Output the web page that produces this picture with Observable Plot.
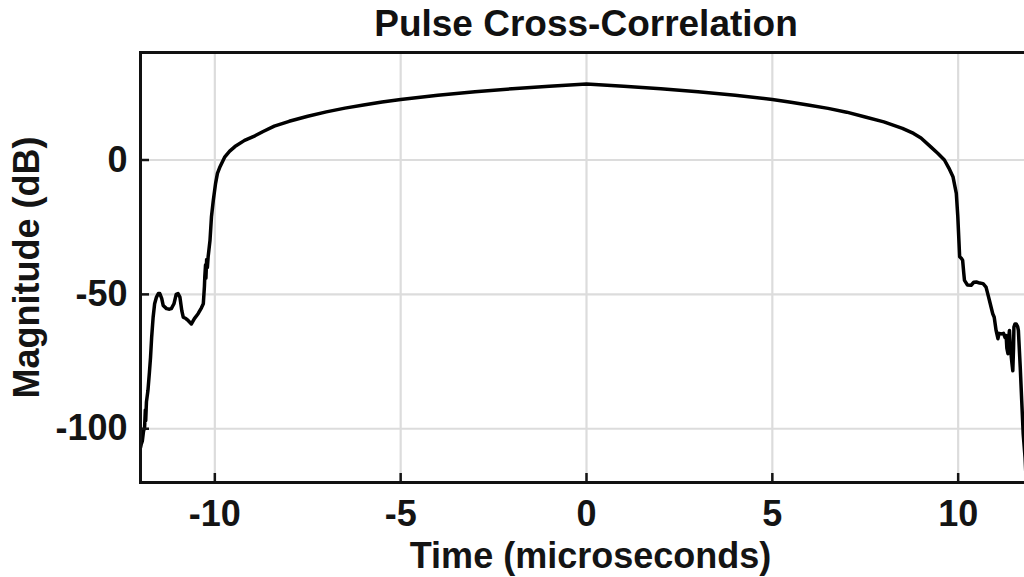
<!DOCTYPE html>
<html><head><meta charset="utf-8">
<script src="https://cdn.jsdelivr.net/npm/d3@7"></script>
<script src="https://cdn.jsdelivr.net/npm/@observablehq/plot@0.6"></script>
<style>
html,body{margin:0;padding:0;background:#fff;}
#wrap{position:relative;width:1024px;height:577px;overflow:hidden;background:#fff;}
#title{position:absolute;left:0;top:5px;width:1172px;text-align:center;font:bold 37px/37px "Liberation Sans",Arial,sans-serif;color:#111;}
#chart{position:absolute;left:0;top:0;width:1032px;}
</style>
</head><body>
<div id="wrap"><div id="chart"></div><div id="title"></div></div>
<script>
const titleText = "Pulse Cross-Correlation";
const xLabel = "Time (microseconds)";
const yLabel = "Magnitude (dB)";
const xTicks = [-10, -5, 0, 5, 10];
const yTicks = [-100, -50, 0];

const time = [
  -12.00, -11.98, -11.95, -11.92, -11.89, -11.87, -11.86, -11.84, -11.80, -11.76,
  -11.73, -11.70, -11.66, -11.62, -11.57, -11.52, -11.48, -11.43, -11.39, -11.30,
  -11.22, -11.17, -11.10, -11.04, -10.99, -10.94, -10.89, -10.85, -10.78, -10.72,
  -10.63, -10.55, -10.45, -10.36, -10.31, -10.28, -10.27, -10.25, -10.24, -10.22,
  -10.20, -10.18, -10.13, -10.09, -10.04, -9.98, -9.93, -9.86, -9.73, -9.60,
  -9.46, -9.20, -8.92, -8.70, -8.40, -8.00, -7.50, -7.00, -6.50, -6.00,
  -5.50, -5.00, -4.00, -3.00, -2.00, -1.00, 0.00, 1.00, 2.00, 3.00,
  4.00, 5.00, 5.50, 6.00, 6.50, 7.00, 7.50, 8.00, 8.50, 8.80,
  9.00, 9.27, 9.45, 9.63, 9.75, 9.86, 9.95, 9.99, 10.02, 10.04,
  10.08, 10.12, 10.15, 10.17, 10.25, 10.35, 10.42, 10.49, 10.58, 10.67,
  10.75, 10.80, 10.84, 10.93, 10.97, 11.02, 11.07, 11.10, 11.16, 11.22,
  11.26, 11.29, 11.31, 11.34, 11.36, 11.38, 11.40, 11.43, 11.45, 11.47,
  11.49, 11.50, 11.53, 11.56, 11.60, 11.62, 11.67, 11.71, 11.75, 11.80,
  11.85
];
const magnitude = [
  -107, -105.7, -104.5, -101, -99.5, -93, -97, -90, -85.8, -79,
  -73.4, -66, -58.5, -53.5, -51, -49.7, -49.7, -51.5, -54.1, -55.3,
  -55.5, -55.3, -53.5, -50, -49.7, -51, -56, -58.5, -59, -59.7,
  -61, -59, -57.2, -55, -53.5, -47, -43.5, -39, -44, -37,
  -40, -36, -29.9, -21, -14.9, -8.7, -5, -2.5, 1.2, 3.3,
  5, 7.3, 9.0, 10.6, 12.6, 14.4, 16.3, 17.9, 19.3, 20.5,
  21.6, 22.5, 24.1, 25.4, 26.5, 27.4, 28.3, 27.4, 26.5, 25.4,
  24.1, 22.5, 21.5, 20.4, 19.2, 17.8, 16.0, 14.2, 11.8, 9.9,
  8.2, 4.8, 2.5, 0, -3, -6.2, -12.4, -21, -30, -36,
  -36.5, -37.3, -42, -44.8, -46.5, -46.6, -45.5, -45.4, -45.8, -46,
  -47.3, -50, -52.2, -57.2, -58.5, -63.4, -66.5, -64.5, -64.7, -64.5,
  -66, -65.3, -70, -72.1, -66, -63.4, -68, -73.4, -76, -78.4,
  -70, -62.2, -61, -61, -62, -63.4, -77.1, -89.6, -102, -110.7,
  -125
];
const data = time.map((t, i) => ({t, m: magnitude[i]}));

document.getElementById("title").textContent = titleText;

const W = 1032, H = 577, mL = 140, mR = 0, mT = 52, mB = 95;
const innerW = W - mL - mR, innerH = H - mT - mB;
const ink = "#141414";
const fontFamily = "'Liberation Sans', Arial, Helvetica, sans-serif";

const chart = Plot.plot({
  width: W, height: H,
  marginLeft: mL, marginRight: mR, marginTop: mT, marginBottom: mB,
  style: {fontFamily, fontWeight: "bold", fontSize: "36px", color: ink, background: "#fff", overflow: "visible", maxWidth: "none"},
  x: {domain: [-12, 12]},
  y: {domain: [-120, 40]},
  marks: [
    Plot.ruleX(xTicks, {stroke: "#dcdcdc", strokeWidth: 2.2}),
    Plot.ruleY(yTicks, {stroke: "#dcdcdc", strokeWidth: 2.2}),
    Plot.line(data, {x: "t", y: "m", stroke: "#000", strokeWidth: 3.5, strokeLinejoin: "round", clip: true}),
    Plot.ruleX(xTicks, {insetTop: innerH - 9, stroke: ink, strokeWidth: 2.5}),
    Plot.ruleY(yTicks, {insetRight: innerW - 9, stroke: ink, strokeWidth: 2.5}),
    Plot.frame({stroke: "#111", strokeWidth: 3}),
    Plot.axisX(xTicks, {tickSize: 0, tickPadding: 18, tickFormat: d => String(d), label: null, fontSize: 36, fontWeight: "bold", fill: ink}),
    Plot.axisY(yTicks, {tickSize: 0, tickPadding: 13, tickFormat: d => String(d), label: null, fontSize: 36, fontWeight: "bold", fill: ink}),
    Plot.text([xLabel], {text: d => d, frameAnchor: "bottom", dy: 60, dx: 4, textAnchor: "middle", lineAnchor: "top", fontSize: 36, fontWeight: "bold", fill: ink}),
    Plot.text([yLabel], {text: d => d, frameAnchor: "left", dx: -127, rotate: -90, textAnchor: "middle", lineAnchor: "top", fontSize: 36, fontWeight: "bold", fill: ink})
  ]
});
document.getElementById("chart").appendChild(chart);
</script>
</body></html>
